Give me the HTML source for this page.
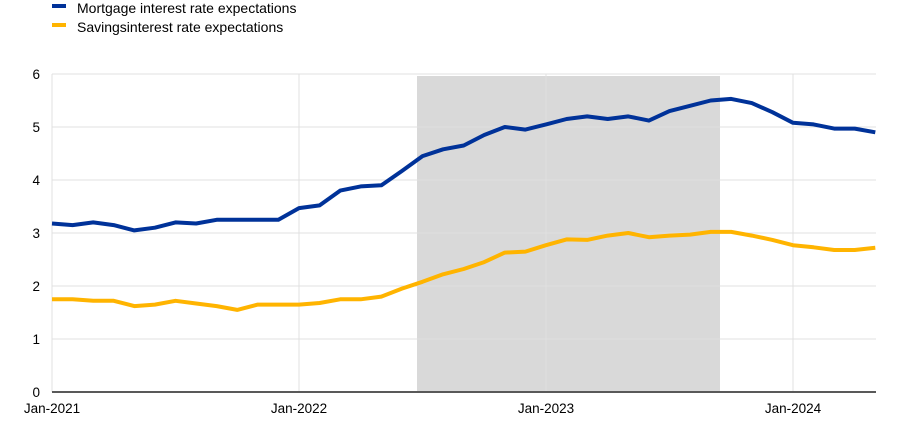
<!DOCTYPE html>
<html><head><style>body{margin:0;background:#fff}svg{display:block;font-family:"Liberation Sans",sans-serif}</style></head>
<body>
<svg width="921" height="421" viewBox="0 0 921 421">
<rect x="417" y="76" width="303" height="316" fill="#d9d9d9"/>
<g stroke="#e0e0e0" stroke-width="1">
<line x1="52" y1="74" x2="876" y2="74"/><line x1="52" y1="127" x2="876" y2="127"/><line x1="52" y1="180" x2="876" y2="180"/><line x1="52" y1="233" x2="876" y2="233"/><line x1="52" y1="286" x2="876" y2="286"/><line x1="52" y1="339" x2="876" y2="339"/>
<line x1="52" y1="74" x2="52" y2="392"/><line x1="299" y1="74" x2="299" y2="392"/><line x1="546" y1="74" x2="546" y2="392"/><line x1="793" y1="74" x2="793" y2="392"/>
</g>
<line x1="52" y1="392" x2="876" y2="392" stroke="#595959" stroke-width="2"/>
<g font-size="13.5" fill="#000" text-anchor="end">
<text x="40" y="79">6</text><text x="40" y="132">5</text><text x="40" y="185">4</text><text x="40" y="238">3</text><text x="40" y="291">2</text><text x="40" y="344">1</text><text x="40" y="397">0</text>
</g>
<g font-size="13.5" fill="#000" text-anchor="middle">
<text x="52" y="413">Jan-2021</text><text x="299" y="413">Jan-2022</text><text x="546" y="413">Jan-2023</text><text x="793" y="413">Jan-2024</text>
</g>
<rect x="52" y="4" width="14" height="4" fill="#003299"/>
<rect x="52" y="23" width="14" height="4" fill="#ffb400"/>
<text x="77" y="13" font-size="14">Mortgage interest rate expectations</text>
<text x="77" y="32" font-size="14">Savingsinterest rate expectations</text>
<polyline id="m" fill="none" stroke="#003299" stroke-width="4" stroke-linejoin="round"/>
<polyline id="s" fill="none" stroke="#ffb400" stroke-width="4" stroke-linejoin="round"/>
<script>
var m=[3.18,3.15,3.2,3.15,3.05,3.1,3.2,3.18,3.25,3.25,3.25,3.25,3.47,3.52,3.8,3.88,3.9,4.17,4.45,4.58,4.65,4.85,5.0,4.95,5.05,5.15,5.2,5.15,5.2,5.12,5.3,5.4,5.5,5.53,5.45,5.28,5.08,5.05,4.97,4.97,4.9];
var s=[1.75,1.75,1.72,1.72,1.62,1.65,1.72,1.67,1.62,1.55,1.65,1.65,1.65,1.68,1.75,1.75,1.8,1.95,2.08,2.22,2.32,2.45,2.63,2.65,2.77,2.88,2.87,2.95,3.0,2.92,2.95,2.97,3.02,3.02,2.95,2.87,2.77,2.73,2.68,2.68,2.72];
function p(a){return a.map(function(v,i){return (52+i*20.583).toFixed(1)+","+(392-v*53).toFixed(1)}).join(" ")}
document.getElementById("m").setAttribute("points",p(m));
document.getElementById("s").setAttribute("points",p(s));
</script>
</svg>
</body></html>
